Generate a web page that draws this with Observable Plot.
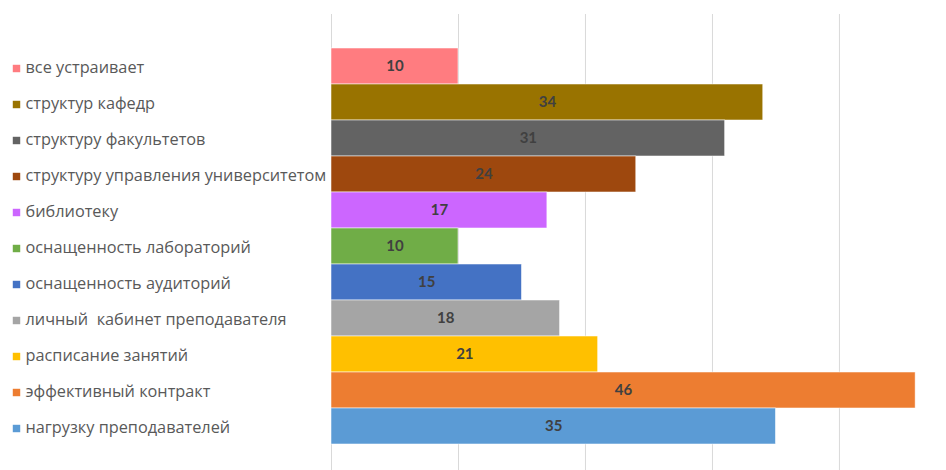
<!DOCTYPE html>
<html>
<head>
<meta charset="utf-8">
<script src="https://cdn.jsdelivr.net/npm/d3@7"></script>
<script src="https://cdn.jsdelivr.net/npm/@observablehq/plot@0.6"></script>
<style>
  html, body { margin: 0; padding: 0; background: #fff; }
  svg text { white-space: pre; }
</style>
</head>
<body>
<div id="chart"></div>
<script>
const categories = [
  "все устраивает",
  "структур кафедр",
  "структуру факультетов",
  "структуру управления университетом",
  "библиотеку",
  "оснащенность лабораторий",
  "оснащенность аудиторий",
  "личный  кабинет преподавателя",
  "расписание занятий",
  "эффективный контракт",
  "нагрузку преподавателей"
];
const values = [10, 34, 31, 24, 17, 10, 15, 18, 21, 46, 35];
const colors = ["#FF7C80", "#997300", "#636363", "#9E480E", "#CC66FF", "#70AD47", "#4472C4", "#A5A5A5", "#FFC000", "#ED7D31", "#5B9BD5"];
const gridTicks = [0, 10, 20, 30, 40];

const data = categories.map((c, i) => ({label: c, value: values[i], color: colors[i]}));

const chart = Plot.plot({
  width: 946,
  height: 470,
  marginLeft: 331,
  marginRight: 0,
  marginTop: 14,
  marginBottom: 0,
  style: {fontFamily: "'Open Sans', Lato, sans-serif", background: "#fff"},
  x: {domain: [0, 48.43], axis: null},
  y: {domain: categories, range: [47, 445], padding: 0, axis: null},
  marks: [
    Plot.ruleX(gridTicks, {stroke: "#d9d9d9", strokeWidth: 1}),
    Plot.barX(data, {x: "value", y: "label", fill: "color", stroke: "white", strokeOpacity: 0.7, strokeWidth: 0.75}),
    Plot.text(data, {x: d => d.value / 2, y: "label", text: d => String(d.value), fill: "#404040", fontWeight: "bold", fontSize: 15, fontFamily: "Lato, sans-serif"}),
    Plot.dot(data, {y: "label", frameAnchor: "left", dx: -315, dy: 2, symbol: "square", r: 4.2, fill: "color", stroke: "none"}),
    Plot.text(data, {y: "label", text: "label", frameAnchor: "left", dx: -306, dy: 1.5, textAnchor: "start", fill: "#595959", fontSize: 16.3})
  ]
});
document.getElementById("chart").appendChild(chart);
</script>
</body>
</html>
